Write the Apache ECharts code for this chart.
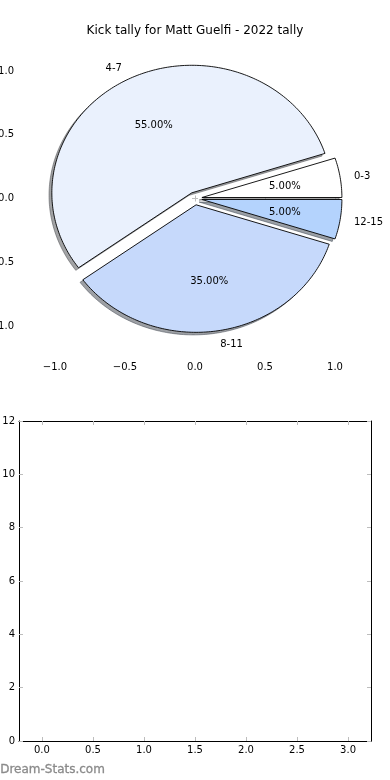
<!DOCTYPE html>
<html>
<head>
<meta charset="utf-8">
<script src="https://cdn.jsdelivr.net/npm/echarts@6/dist/echarts.min.js"></script>
<style>
html,body{margin:0;padding:0;background:#fff;}
#chart{width:390px;height:780px;}
</style>
</head>
<body>
<div id="chart"></div>
<script>
// ---- data ----
const titleText = 'Kick tally for Matt Guelfi - 2022 tally';
const categories = ['0-3', '4-7', '8-11', '12-15'];
const kicks = [1, 11, 7, 1];
const sliceColors = ['#ffffff', '#eaf1fd', '#c6d9fb', '#b4d3fd'];
const explode = [0.05, 0.05, 0.05, 0.05];
const pieTicks = [-1.0, -0.5, 0.0, 0.5, 1.0];
const lowerXTicks = [0.0, 0.5, 1.0, 1.5, 2.0, 2.5, 3.0];
const lowerYTicks = [0, 2, 4, 6, 8, 10, 12];

const FONT = 'DejaVu Sans';
const TICK_GREY = '#bdbdbd';
const total = kicks.reduce((a, b) => a + b, 0);

function fmt1(v) { return v.toFixed(1).replace('-', '\u2212'); }

function geom(i) {
  let before = 0;
  for (let k = 0; k < i; k++) before += kicks[k];
  const a0 = before / total * 360;
  const a1 = (before + kicks[i]) / total * 360;
  const mid = (a0 + a1) / 2 * Math.PI / 180;
  return { a0, a1, mid, ex: explode[i] * Math.cos(mid), ey: explode[i] * Math.sin(mid) };
}

function wedgePoints(api, i, dx, dy) {
  const g = geom(i);
  const pts = [api.coord([g.ex + dx, g.ey + dy])];
  const steps = Math.max(2, Math.ceil((g.a1 - g.a0) / 1));
  for (let s = 0; s <= steps; s++) {
    const a = (g.a0 + (g.a1 - g.a0) * s / steps) * Math.PI / 180;
    pts.push(api.coord([g.ex + dx + Math.cos(a), g.ey + dy + Math.sin(a)]));
  }
  return pts;
}

function shadowColor(hex) {
  const r = parseInt(hex.slice(1, 3), 16), g = parseInt(hex.slice(3, 5), 16), b = parseInt(hex.slice(5, 7), 16);
  return 'rgba(' + Math.round(r * 0.3) + ',' + Math.round(g * 0.3) + ',' + Math.round(b * 0.3) + ',0.5)';
}

const pieData = categories.map((c, i) => [i, kicks[i]]);

const chart = echarts.init(document.getElementById('chart'), null, { renderer: 'canvas' });

const axisBaseFont = { fontFamily: FONT, fontSize: 10, color: '#000' };

const option = {
  animation: false,
  backgroundColor: '#fff',
  title: {
    text: titleText,
    left: 'center',
    top: 25,
    padding: 0,
    textStyle: { fontFamily: FONT, fontSize: 12, fontWeight: 'normal', color: '#000' }
  },
  graphic: [{
    type: 'text',
    left: 0,
    top: 764,
    style: { text: 'Dream-Stats.com', font: '12px "DejaVu Sans"', fill: '#8a8a8a', stroke: '#8a8a8a', lineWidth: 0.3 }
  }],
  grid: [
    { left: 21, right: 21, top: 41, bottom: 424, outerBoundsMode: 'none', containLabel: false },
    { left: 19, right: 19, top: 421, bottom: 39, outerBoundsMode: 'none', containLabel: false }
  ],
  xAxis: [
    {
      gridIndex: 0, type: 'value', min: -1.243, max: 1.243, position: 'bottom',
      axisLine: { show: false }, splitLine: { show: false },
      axisTick: { show: true, inside: true, length: 3, lineStyle: { color: TICK_GREY, width: 1 }, customValues: pieTicks },
      axisLabel: Object.assign({ show: true, margin: 6, customValues: pieTicks, formatter: v => fmt1(v) }, axisBaseFont)
    },
    {
      gridIndex: 0, type: 'value', min: -1.243, max: 1.243, position: 'top',
      axisLine: { show: false }, splitLine: { show: false },
      axisTick: { show: true, inside: true, length: 3, lineStyle: { color: TICK_GREY, width: 1 }, customValues: pieTicks },
      axisLabel: { show: false }
    },
    {
      gridIndex: 1, type: 'value', min: -0.225, max: 3.225, position: 'bottom',
      axisLine: { show: true, onZero: false, lineStyle: { color: '#000', width: 1 } }, splitLine: { show: false },
      axisTick: { show: true, inside: true, length: 4, lineStyle: { color: TICK_GREY, width: 1 }, customValues: lowerXTicks },
      axisLabel: Object.assign({ show: true, margin: 4, customValues: lowerXTicks, formatter: v => fmt1(v) }, axisBaseFont)
    },
    {
      gridIndex: 1, type: 'value', min: -0.225, max: 3.225, position: 'top',
      axisLine: { show: true, onZero: false, lineStyle: { color: '#000', width: 1 } }, splitLine: { show: false },
      axisTick: { show: true, inside: true, length: 4, lineStyle: { color: TICK_GREY, width: 1 }, customValues: lowerXTicks },
      axisLabel: { show: false }
    }
  ],
  yAxis: [
    {
      gridIndex: 0, type: 'value', min: -1.235, max: 1.235, position: 'left',
      axisLine: { show: false }, splitLine: { show: false },
      axisTick: { show: true, inside: true, length: 3, lineStyle: { color: TICK_GREY, width: 1 }, customValues: pieTicks },
      axisLabel: Object.assign({ show: true, margin: 7, customValues: pieTicks, formatter: v => fmt1(v) }, axisBaseFont)
    },
    {
      gridIndex: 0, type: 'value', min: -1.235, max: 1.235, position: 'right',
      axisLine: { show: false }, splitLine: { show: false },
      axisTick: { show: true, inside: true, length: 3, lineStyle: { color: TICK_GREY, width: 1 }, customValues: pieTicks },
      axisLabel: { show: false }
    },
    {
      gridIndex: 1, type: 'value', min: 0, max: 12, interval: 2, position: 'left',
      axisLine: { show: true, onZero: false, lineStyle: { color: '#000', width: 1 } }, splitLine: { show: false },
      axisTick: { show: true, inside: true, length: 4, lineStyle: { color: TICK_GREY, width: 1 }, customValues: lowerYTicks },
      axisLabel: Object.assign({ show: true, margin: 4, customValues: lowerYTicks, formatter: v => String(v) }, axisBaseFont)
    },
    {
      gridIndex: 1, type: 'value', min: 0, max: 12, interval: 2, position: 'right',
      axisLine: { show: true, onZero: false, lineStyle: { color: '#000', width: 1 } }, splitLine: { show: false },
      axisTick: { show: true, inside: true, length: 4, lineStyle: { color: TICK_GREY, width: 1 }, customValues: lowerYTicks },
      axisLabel: { show: false }
    }
  ],
  series: [
    {
      type: 'custom', xAxisIndex: 0, yAxisIndex: 0, z: 1, clip: false,
      data: pieData,
      encode: { x: -1, y: -1 },
      renderItem: function (params, api) {
        const i = params.dataIndex;
        return {
          type: 'polygon',
          shape: { points: wedgePoints(api, i, -0.02, -0.02) },
          style: { fill: shadowColor(sliceColors[i]), stroke: shadowColor(sliceColors[i]), lineWidth: 1 }
        };
      }
    },
    {
      type: 'custom', xAxisIndex: 0, yAxisIndex: 0, z: 2, clip: false,
      data: pieData,
      encode: { x: -1, y: -1 },
      renderItem: function (params, api) {
        const i = params.dataIndex;
        const g = geom(i);
        const cx = Math.cos(g.mid), sy = Math.sin(g.mid);
        const lp = api.coord([g.ex + 1.1 * cx, g.ey + 1.1 * sy]);
        const pp = api.coord([g.ex + 0.6 * cx, g.ey + 0.6 * sy]);
        const pct = (kicks[i] / total * 100).toFixed(2) + '%';
        const lAlign = (1.1 * cx) > 0 ? 'left' : 'right';
        return {
          type: 'group',
          children: [
            {
              type: 'polygon',
              shape: { points: wedgePoints(api, i, 0, 0) },
              style: { fill: sliceColors[i], stroke: '#000', lineWidth: 0.9, lineJoin: 'miter' }
            },
            {
              type: 'text', z2: 10,
              style: { text: categories[i], x: lp[0], y: lp[1] + 1, align: lAlign, verticalAlign: 'middle',
                       textAlign: lAlign, textVerticalAlign: 'middle',
                       font: '10px "DejaVu Sans"', fill: '#000' }
            },
            {
              type: 'text', z2: 10,
              style: { text: pct, x: pp[0], y: pp[1] + 1, align: 'center', verticalAlign: 'middle',
                       textAlign: 'center', textVerticalAlign: 'middle',
                       font: '10px "DejaVu Sans"', fill: '#000' }
            }
          ]
        };
      }
    }
  ]
};

chart.setOption(option);
</script>
</body>
</html>
